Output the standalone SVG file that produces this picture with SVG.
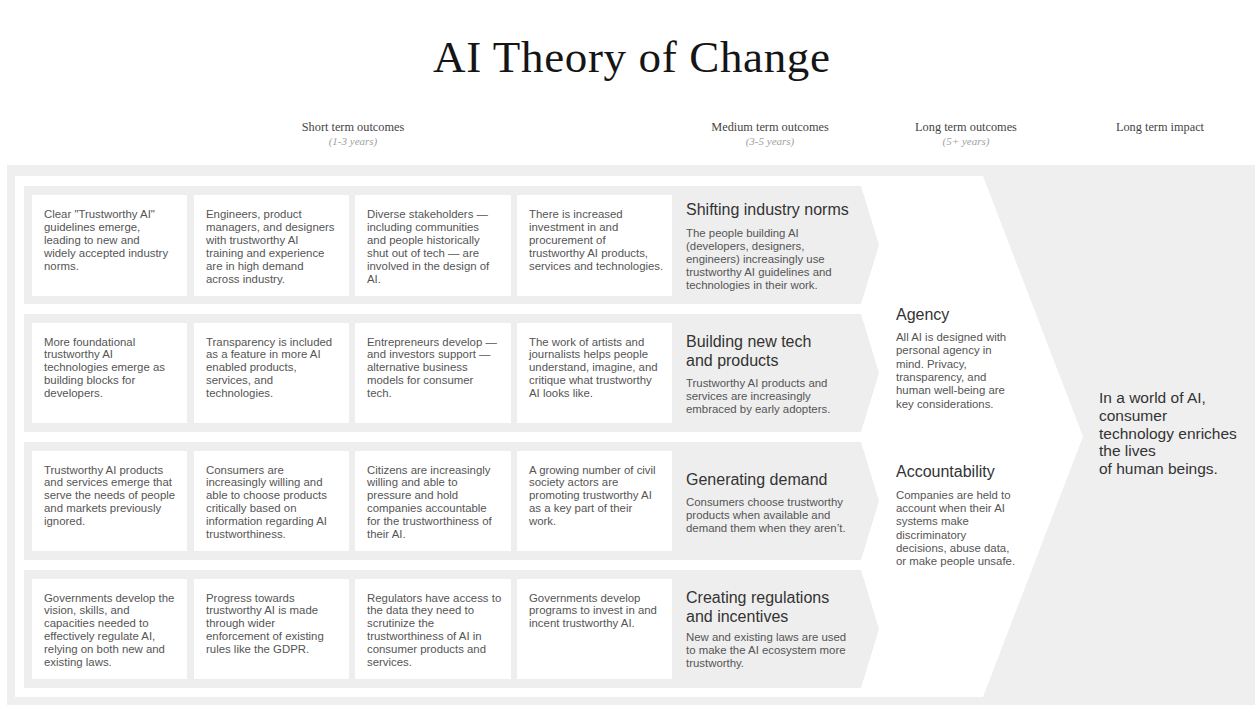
<svg xmlns="http://www.w3.org/2000/svg" width="1255" height="706" viewBox="0 0 1255 706">
<style>
.bg{fill:#efefef}
.band{fill:#eeeeee}
.card{fill:#ffffff}
.title{font-family:"Liberation Serif",serif;font-size:45px;fill:#151515}
.hd{font-family:"Liberation Serif",serif;font-size:12.3px;fill:#444;text-anchor:middle}
.sub{font-family:"Liberation Serif",serif;font-size:11px;fill:#a0a0a0;text-anchor:middle;font-style:italic}
.t{font-family:"Liberation Sans",Arial,sans-serif;font-size:11.4px;fill:#555}
.h{font-family:"Liberation Sans",Arial,sans-serif;font-size:16px;fill:#333}
.imp{font-family:"Liberation Sans",Arial,sans-serif;font-size:15.5px;fill:#333}
</style>
<rect width="1255" height="706" fill="#ffffff"/>
<text class="title" x="433" y="72" textLength="397" lengthAdjust="spacing">AI Theory of Change</text>
<g id="headers">
<text class="hd" x="353" y="131">Short term outcomes</text>
<text class="sub" x="353" y="145">(1-3 years)</text>
<text class="hd" x="770" y="131">Medium term outcomes</text>
<text class="sub" x="770" y="145">(3-5 years)</text>
<text class="hd" x="966" y="131">Long term outcomes</text>
<text class="sub" x="966" y="145">(5+ years)</text>
<text class="hd" x="1160" y="131">Long term impact</text>
</g>
<rect class="bg" x="7" y="165" width="1248" height="540"/>
<path id="main-chevron" d="M15 176 H983 L1083 436.5 L983 697 H15 Z" fill="#ffffff"/>
<g id="connectors"></g>

<g id="row1">
<path class="band" d="M24 186 H861 L879 245 L861 304 H24 Z"/>
<g id="r1c1"><rect class="card" x="32" y="195" width="155" height="101"/>
<text class="t" x="44" y="218"><tspan x="44">Clear "Trustworthy AI"</tspan><tspan x="44" dy="12.9">guidelines emerge,</tspan><tspan x="44" dy="12.9">leading to new and</tspan><tspan x="44" dy="12.9">widely accepted industry</tspan><tspan x="44" dy="12.9">norms.</tspan></text></g>
<g id="r1c2"><rect class="card" x="194" y="195" width="155" height="101"/>
<text class="t" x="206" y="218"><tspan x="206">Engineers, product</tspan><tspan x="206" dy="12.9">managers, and designers</tspan><tspan x="206" dy="12.9">with trustworthy AI</tspan><tspan x="206" dy="12.9">training and experience</tspan><tspan x="206" dy="12.9">are in high demand</tspan><tspan x="206" dy="12.9">across industry.</tspan></text></g>
<g id="r1c3"><rect class="card" x="355" y="195" width="156" height="101"/>
<text class="t" x="367" y="218"><tspan x="367">Diverse stakeholders —</tspan><tspan x="367" dy="12.9">including communities</tspan><tspan x="367" dy="12.9">and people historically</tspan><tspan x="367" dy="12.9">shut out of tech — are</tspan><tspan x="367" dy="12.9">involved in the design of</tspan><tspan x="367" dy="12.9">AI.</tspan></text></g>
<g id="r1c4"><rect class="card" x="517" y="195" width="155" height="101"/>
<text class="t" x="529" y="218"><tspan x="529">There is increased</tspan><tspan x="529" dy="12.9">investment in and</tspan><tspan x="529" dy="12.9">procurement of</tspan><tspan x="529" dy="12.9">trustworthy AI products,</tspan><tspan x="529" dy="12.9">services and technologies.</tspan></text></g>
<g id="m1"><text class="h" x="686" y="215">Shifting industry norms</text>
<text class="t" x="686" y="237"><tspan x="686">The people building AI</tspan><tspan x="686" dy="13">(developers, designers,</tspan><tspan x="686" dy="13">engineers) increasingly use</tspan><tspan x="686" dy="13">trustworthy AI guidelines and</tspan><tspan x="686" dy="13">technologies in their work.</tspan></text></g>
</g>

<g id="row2">
<path class="band" d="M24 314 H861 L879 373 L861 432 H24 Z"/>
<g id="r2c1"><rect class="card" x="32" y="323" width="155" height="100"/>
<text class="t" x="44" y="345.5"><tspan x="44">More foundational</tspan><tspan x="44" dy="12.9">trustworthy AI</tspan><tspan x="44" dy="12.9">technologies emerge as</tspan><tspan x="44" dy="12.9">building blocks for</tspan><tspan x="44" dy="12.9">developers.</tspan></text></g>
<g id="r2c2"><rect class="card" x="194" y="323" width="155" height="100"/>
<text class="t" x="206" y="345.5"><tspan x="206">Transparency is included</tspan><tspan x="206" dy="12.9">as a feature in more AI</tspan><tspan x="206" dy="12.9">enabled products,</tspan><tspan x="206" dy="12.9">services, and</tspan><tspan x="206" dy="12.9">technologies.</tspan></text></g>
<g id="r2c3"><rect class="card" x="355" y="323" width="156" height="100"/>
<text class="t" x="367" y="345.5"><tspan x="367">Entrepreneurs develop —</tspan><tspan x="367" dy="12.9">and investors support —</tspan><tspan x="367" dy="12.9">alternative business</tspan><tspan x="367" dy="12.9">models for consumer</tspan><tspan x="367" dy="12.9">tech.</tspan></text></g>
<g id="r2c4"><rect class="card" x="517" y="323" width="155" height="100"/>
<text class="t" x="529" y="345.5"><tspan x="529">The work of artists and</tspan><tspan x="529" dy="12.9">journalists helps people</tspan><tspan x="529" dy="12.9">understand, imagine, and</tspan><tspan x="529" dy="12.9">critique what trustworthy</tspan><tspan x="529" dy="12.9">AI looks like.</tspan></text></g>
<g id="m2"><text class="h" x="686" y="347"><tspan x="686">Building new tech</tspan><tspan x="686" dy="19">and products</tspan></text>
<text class="t" x="686" y="387"><tspan x="686">Trustworthy AI products and</tspan><tspan x="686" dy="13">services are increasingly</tspan><tspan x="686" dy="13">embraced by early adopters.</tspan></text></g>
</g>

<g id="row3">
<path class="band" d="M24 442 H861 L879 501 L861 560 H24 Z"/>
<g id="r3c1"><rect class="card" x="32" y="451" width="155" height="100"/>
<text class="t" x="44" y="473.5"><tspan x="44">Trustworthy AI products</tspan><tspan x="44" dy="12.9">and services emerge that</tspan><tspan x="44" dy="12.9">serve the needs of people</tspan><tspan x="44" dy="12.9">and markets previously</tspan><tspan x="44" dy="12.9">ignored.</tspan></text></g>
<g id="r3c2"><rect class="card" x="194" y="451" width="155" height="100"/>
<text class="t" x="206" y="473.5"><tspan x="206">Consumers are</tspan><tspan x="206" dy="12.9">increasingly willing and</tspan><tspan x="206" dy="12.9">able to choose products</tspan><tspan x="206" dy="12.9">critically based on</tspan><tspan x="206" dy="12.9">information regarding AI</tspan><tspan x="206" dy="12.9">trustworthiness.</tspan></text></g>
<g id="r3c3"><rect class="card" x="355" y="451" width="156" height="100"/>
<text class="t" x="367" y="473.5"><tspan x="367">Citizens are increasingly</tspan><tspan x="367" dy="12.9">willing and able to</tspan><tspan x="367" dy="12.9">pressure and hold</tspan><tspan x="367" dy="12.9">companies accountable</tspan><tspan x="367" dy="12.9">for the trustworthiness of</tspan><tspan x="367" dy="12.9">their AI.</tspan></text></g>
<g id="r3c4"><rect class="card" x="517" y="451" width="155" height="100"/>
<text class="t" x="529" y="473.5"><tspan x="529">A growing number of civil</tspan><tspan x="529" dy="12.9">society actors are</tspan><tspan x="529" dy="12.9">promoting trustworthy AI</tspan><tspan x="529" dy="12.9">as a key part of their</tspan><tspan x="529" dy="12.9">work.</tspan></text></g>
<g id="m3"><text class="h" x="686" y="485">Generating demand</text>
<text class="t" x="686" y="506"><tspan x="686">Consumers choose trustworthy</tspan><tspan x="686" dy="13">products when available and</tspan><tspan x="686" dy="13">demand them when they aren’t.</tspan></text></g>
</g>

<g id="row4">
<path class="band" d="M24 570 H861 L879 629 L861 688 H24 Z"/>
<g id="r4c1"><rect class="card" x="32" y="579" width="155" height="100"/>
<text class="t" x="44" y="601.5"><tspan x="44">Governments develop the</tspan><tspan x="44" dy="12.9">vision, skills, and</tspan><tspan x="44" dy="12.9">capacities needed to</tspan><tspan x="44" dy="12.9">effectively regulate AI,</tspan><tspan x="44" dy="12.9">relying on both new and</tspan><tspan x="44" dy="12.9">existing laws.</tspan></text></g>
<g id="r4c2"><rect class="card" x="194" y="579" width="155" height="100"/>
<text class="t" x="206" y="601.5"><tspan x="206">Progress towards</tspan><tspan x="206" dy="12.9">trustworthy AI is made</tspan><tspan x="206" dy="12.9">through wider</tspan><tspan x="206" dy="12.9">enforcement of existing</tspan><tspan x="206" dy="12.9">rules like the GDPR.</tspan></text></g>
<g id="r4c3"><rect class="card" x="355" y="579" width="156" height="100"/>
<text class="t" x="367" y="601.5"><tspan x="367">Regulators have access to</tspan><tspan x="367" dy="12.9">the data they need to</tspan><tspan x="367" dy="12.9">scrutinize the</tspan><tspan x="367" dy="12.9">trustworthiness of AI in</tspan><tspan x="367" dy="12.9">consumer products and</tspan><tspan x="367" dy="12.9">services.</tspan></text></g>
<g id="r4c4"><rect class="card" x="517" y="579" width="155" height="100"/>
<text class="t" x="529" y="601.5"><tspan x="529">Governments develop</tspan><tspan x="529" dy="12.9">programs to invest in and</tspan><tspan x="529" dy="12.9">incent trustworthy AI.</tspan></text></g>
<g id="m4"><text class="h" x="686" y="603"><tspan x="686">Creating regulations</tspan><tspan x="686" dy="19">and incentives</tspan></text>
<text class="t" x="686" y="641"><tspan x="686">New and existing laws are used</tspan><tspan x="686" dy="13">to make the AI ecosystem more</tspan><tspan x="686" dy="13">trustworthy.</tspan></text></g>
</g>

<g id="agency"><text class="h" x="896" y="320">Agency</text>
<text class="t" x="896" y="341"><tspan x="896">All AI is designed with</tspan><tspan x="896" dy="13.3">personal agency in</tspan><tspan x="896" dy="13.3">mind. Privacy,</tspan><tspan x="896" dy="13.3">transparency, and</tspan><tspan x="896" dy="13.3">human well-being are</tspan><tspan x="896" dy="13.3">key considerations.</tspan></text></g>
<g id="accountability"><text class="h" x="896" y="477">Accountability</text>
<text class="t" x="896" y="499"><tspan x="896">Companies are held to</tspan><tspan x="896" dy="13.2">account when their AI</tspan><tspan x="896" dy="13.2">systems make</tspan><tspan x="896" dy="13.2">discriminatory</tspan><tspan x="896" dy="13.2">decisions, abuse data,</tspan><tspan x="896" dy="13.2">or make people unsafe.</tspan></text></g>
<g id="impact"><text class="imp" x="1099" y="403"><tspan x="1099">In a world of AI,</tspan><tspan x="1099" dy="17.8">consumer</tspan><tspan x="1099" dy="17.8">technology enriches</tspan><tspan x="1099" dy="17.8">the lives</tspan><tspan x="1099" dy="17.8">of human beings.</tspan></text></g>
</svg>
